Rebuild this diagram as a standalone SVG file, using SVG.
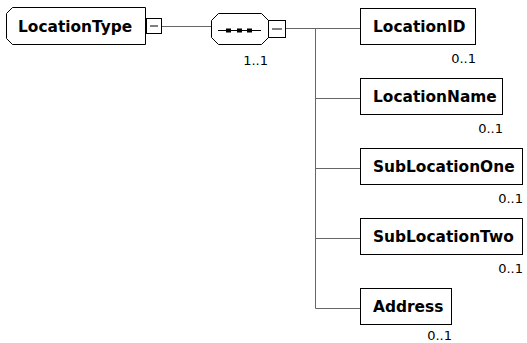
<svg xmlns="http://www.w3.org/2000/svg" width="527" height="343" viewBox="0 0 527 343">
<style>
.box{fill:#fff;stroke:#000;stroke-width:1}
.pm{fill:#fff;stroke:#000;stroke-width:1}
.pmline{stroke:#000;stroke-width:1}
.conn{fill:none;stroke:#666;stroke-width:1}
.name{font-family:"DejaVu Sans",Verdana,sans-serif;font-weight:bold;font-size:15.4px;fill:#000}
.card{font-family:"DejaVu Sans",Verdana,sans-serif;font-size:13px;fill:#000;text-anchor:end}
</style>
<rect width="527" height="343" fill="#fff"/>
<g id="connectors">
<path class="conn" d="M161.5,26.5H211"/>
<path class="conn" d="M285.5,28.5H360.5"/>
<path class="conn" d="M315.5,28.5V308.5"/>
<path class="conn" d="M315.5,98.5H360.5"/>
<path class="conn" d="M315.5,168.5H360.5"/>
<path class="conn" d="M315.5,238.5H360.5"/>
<path class="conn" d="M315.5,308.5H360.5"/>
</g>
<g id="LocationType">
<path class="box" d="M12.5,7.5H145.5V44.5H12.5L6.5,38.5V13.5Z"/>
<text class="name" x="18" y="32">LocationType</text>
<rect class="pm" x="146.5" y="18.5" width="15" height="15"/>
<path class="pmline" d="M150,26H158"/>
</g>
<g id="sequence">
<path class="box" d="M218.5,13.5H261.5L268.5,20.5V37.5L261.5,44.5H218.5L211.5,37.5V20.5Z"/>
<path d="M218,30.5H261" stroke="#000" stroke-width="1"/>
<rect x="226" y="28.5" width="5" height="4" fill="#000"/>
<rect x="237" y="28.5" width="5" height="4" fill="#000"/>
<rect x="247" y="28.5" width="5" height="4" fill="#000"/>
<rect class="pm" x="268.5" y="20.5" width="17" height="17"/>
<path class="pmline" d="M272,29H282"/>
<text class="card" x="268" y="65">1..1</text>
</g>
<g id="LocationID">
<rect class="box" x="360.5" y="8.5" width="115" height="36"/>
<text class="name" x="373" y="32">LocationID</text>
<text class="card" x="476" y="63">0..1</text>
</g>
<g id="LocationName">
<rect class="box" x="360.5" y="78.5" width="142" height="36"/>
<text class="name" x="373" y="102">LocationName</text>
<text class="card" x="503" y="133">0..1</text>
</g>
<g id="SubLocationOne">
<rect class="box" x="360.5" y="148.5" width="162" height="36"/>
<text class="name" x="373" y="172">SubLocationOne</text>
<text class="card" x="523" y="203">0..1</text>
</g>
<g id="SubLocationTwo">
<rect class="box" x="360.5" y="218.5" width="162" height="36"/>
<text class="name" x="373" y="242">SubLocationTwo</text>
<text class="card" x="523" y="273">0..1</text>
</g>
<g id="Address">
<rect class="box" x="360.5" y="288.5" width="91" height="36"/>
<text class="name" x="373" y="312">Address</text>
<text class="card" x="452" y="340">0..1</text>
</g>
</svg>
